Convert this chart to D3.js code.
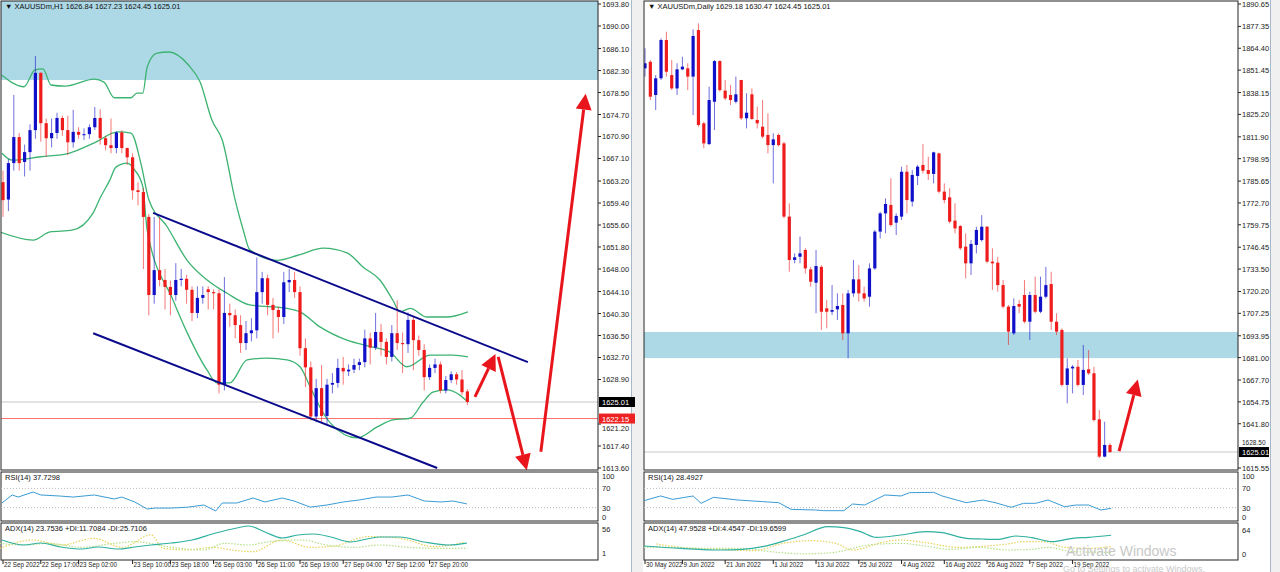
<!DOCTYPE html>
<html><head><meta charset="utf-8">
<script src="https://cdn.jsdelivr.net/npm/d3@7"></script>
<style>html,body{margin:0;padding:0;background:#f0f0f0;}svg{display:block;font-family:"Liberation Sans",Arial,sans-serif;}</style>
</head><body><svg id="c" width="1280" height="572"></svg>
<script>
// ---------------- H1 (left) data ----------------
const h1Open=[1663,1660,1666.3,1670.8,1666.5,1668.2,1672,1681.9,1673.2,1670.6,1671.5,1674.1,1672,1669.9,1671.7,1671.2,1671.3,1672.5,1674.1,1670.6,1669.4,1668.9,1671.6,1668.9,1667.3,1661.6,1661.3,1657,1643.5,1647.8,1646.1,1644.9,1643.5,1646.1,1646.3,1644.4,1640.4,1643,1644.5,1644,1643.8,1628,1640.4,1640,1638.3,1635.2,1636.9,1637.4,1644,1646.4,1641.8,1640.9,1639.7,1645.7,1646.1,1644,1634.3,1631,1622.5,1627.4,1622.6,1628,1628.3,1630.9,1630.3,1630.6,1631.4,1631.9,1636,1634.4,1637.1,1635.4,1632.8,1636.9,1635.2,1635,1639.2,1635.7,1634,1629.3,1630.9,1631.5,1627,1628.8,1629.8,1628.9,1626.84];
const h1High=[1665,1667,1678.1,1671.5,1669.5,1673,1684.8,1682,1674,1674,1675,1674.5,1674.5,1675.5,1672.5,1672.3,1673,1676,1675.6,1671,1674,1671.8,1672,1669,1668,1663,1662,1657.5,1657,1657,1648,1646,1649,1648,1647,1645,1645,1645,1645,1644.5,1644.5,1646.6,1642,1641,1640,1639,1639.5,1650,1647.5,1647,1643,1641.5,1647.5,1648,1647.5,1645,1636,1632,1629,1631.4,1629,1630,1632.5,1632.8,1631.5,1632.5,1632.5,1637.5,1637,1640.4,1638.5,1636,1638.3,1642.6,1637,1640.5,1639.8,1636.5,1635,1631.5,1632.5,1632,1629.5,1630.3,1630.2,1630.5,1627.23];
const h1Low=[1657,1658,1665,1665,1664,1665,1670.5,1670,1667.4,1669,1670.5,1671,1667.7,1669,1670.5,1670.3,1670.5,1672,1669.5,1668.5,1668,1668,1668,1666,1660,1659,1648,1640,1642,1645,1641,1640,1642.5,1645,1642,1639,1639.5,1642,1641,1641,1626.5,1627,1638,1636,1633.5,1634,1635.5,1636,1642,1640,1636,1637,1638.5,1644,1643,1633,1627.6,1621.8,1621.5,1621.5,1621,1626.5,1627.5,1628,1629.5,1630,1630.5,1631,1631.5,1634,1633,1631.5,1632,1634,1630,1633.5,1630.5,1633,1627,1628.8,1630,1626.5,1626.5,1628.3,1628,1626.2,1624.45];
const h1Close=[1659.9,1666.3,1670.8,1666.3,1668.2,1672,1681.9,1673.2,1670.6,1671.5,1674.1,1672,1669.9,1671.7,1671.2,1671.3,1672.5,1674.1,1670.6,1669.4,1668.9,1671.6,1668.9,1667.3,1661.6,1661.3,1657,1643.5,1647.8,1646.1,1644.9,1643.5,1646.1,1646.3,1644.4,1640.4,1643,1643.5,1644,1643.8,1628,1640.4,1640,1638.3,1635.2,1636.9,1637.4,1644,1646.4,1641.8,1640.9,1639.7,1645.7,1646.1,1644,1634.3,1631,1622.5,1627.4,1622.6,1628,1628.3,1630.9,1630.3,1630.6,1631.4,1631.9,1636,1634.4,1637.1,1635.4,1632.8,1636.9,1635.2,1635,1639.2,1635.7,1634,1629.3,1630.9,1631.5,1627,1628.8,1629.8,1628.9,1626.7,1625.01];
const h1BandUpper=[[-0.2,1681.5],[3.9,1679.5],[5.9,1682.4],[7.4,1682.6],[8.9,1679.8],[11.5,1679.6],[16.9,1680.8],[18.7,1680.3],[20.6,1677.6],[23.7,1677.6],[24.8,1678.4],[25.9,1678.4],[26.7,1682.9],[28.5,1685.3],[30.7,1685.5],[34.3,1683.3],[36.5,1680.3],[38.7,1673.7],[40.6,1670.3],[43,1659.9],[44.5,1654.7],[45.7,1651.3],[50.7,1649.5],[55,1650.5],[59.3,1651.6],[63.7,1650.8],[66.7,1648.3],[69.8,1646.1],[72.2,1642.6],[73.5,1640.6],[75.4,1641.2],[78.5,1639.7],[82.2,1639.7],[86.1,1640.6]];
const h1BandMiddle=[[-0.2,1668],[1.7,1666.8],[7,1667.4],[12.2,1668],[16.9,1669.8],[21.3,1671.7],[23.7,1671.5],[25.6,1666],[27,1660],[30.4,1655.3],[34.1,1649.5],[37.8,1646.1],[41.5,1643.8],[45.7,1641.8],[52.6,1641.2],[55,1640.6],[58.7,1638],[63.7,1635.7],[68.5,1634.5],[71.7,1633.6],[74.8,1631.1],[79.1,1633.1],[83.3,1633.1],[86.1,1632.8]];
const h1BandLower=[[-0.6,1654.4],[5.6,1653],[8.7,1654.4],[12.8,1654.7],[16.7,1657.7],[18,1660.3],[19.8,1663.4],[20.9,1665.6],[23,1666.3],[24.4,1665.1],[25.9,1662.2],[26.7,1654.7],[31.5,1642.6],[34.1,1637],[37.8,1630.5],[39.6,1628.3],[42,1628.3],[45.2,1632.3],[48.9,1632.6],[52.6,1632.3],[55,1631.1],[56.9,1627.6],[58.7,1624.1],[60.6,1621.4],[65.6,1618.8],[69.3,1620.7],[72.2,1621.9],[75.4,1622.2],[77.8,1625],[79.6,1626.7],[82.2,1627.1],[84.6,1626.2],[86.1,1625]];
const h1ChannelUpper=[[27.8,1657.7],[97.2,1631.9]];
const h1ChannelLower=[[16.7,1636.9],[80.4,1613.6]];
const h1Arrows=[[[87.4,1625.9],[91.2,1633.3]],[[91.7,1632.8],[97,1613.2]],[[99.6,1616.4],[107.9,1678.3]]];
const h1Zone=[1680.66,1695];
const h1Rsi=[[-0.2,39.6],[1.7,56.3],[2.8,52],[5.6,62.5],[7,56.3],[10.7,54],[13,52],[16.9,56.3],[20.6,48],[22,52],[24.4,41.7],[26.7,27],[28.1,29],[31.1,29],[34.3,31],[37.2,35.4],[39.4,23],[40.6,39.6],[43.3,39.6],[46.3,50],[48.5,41.7],[51.7,50],[53.9,43.8],[56.9,31],[60,35.4],[63,41.7],[65.9,45.8],[69.1,52],[72,52],[75,56.3],[78,43.8],[81.1,41.7],[83.3,43.8],[85.9,37.7]];
const h1Adx=[[-0.2,30.8],[3.9,19.3],[7,23.9],[10.7,14.8],[14.6,10.2],[17.6,14.8],[21.3,10.2],[24.4,14.8],[27.4,19.3],[31.1,23.9],[35,30.8],[39.4,46.9],[43.3,58.3],[45.5,62.9],[48.5,49.2],[51.7,35.4],[54.6,42.3],[57.6,44.6],[60.7,37.7],[64.4,26.2],[67.4,33.1],[69.8,37.7],[73.5,37.7],[78,26.2],[82.6,19.3],[85.9,23.75]];
const h1MinusDi=[[-0.6,11.7],[5.5,30.8],[10.8,19.3],[16.8,34.6],[22.1,14],[27.4,42.3],[29.7,11.7],[34.2,7.9],[38.7,14],[43.3,6.4],[46.3,4.1],[51.6,30.8],[56.9,14],[61.4,17],[67.5,38.5],[72,36.9],[75,30.8],[79.6,15.5],[85.6,25.7]];
const h1PlusDi=[[-0.6,23.2],[4,19.3],[8.5,23.2],[14.6,14],[20.6,23.2],[24.4,27],[31.2,14],[37.2,7.9],[41,23.2],[45.5,19.3],[49.3,27],[55.4,30.8],[59.9,19.3],[65.2,14],[69.7,19.3],[75,14],[81.1,11.7],[86,11.7]];
const h1PriceTicks=[1693.80,1690.00,1686.10,1682.30,1678.50,1674.70,1670.90,1667.10,1663.20,1659.40,1655.60,1651.80,1648.00,1644.10,1640.30,1636.50,1632.70,1628.90,1621.20,1617.40,1613.60];
const h1DateIdx=[0,7,14,24,31,39,47,55,63,71,79];
const h1DateLabels=["22 Sep 2022","22 Sep 17:00","23 Sep 02:00","23 Sep 10:00","23 Sep 18:00","26 Sep 03:00","26 Sep 11:00","26 Sep 19:00","27 Sep 04:00","27 Sep 12:00","27 Sep 20:00"];

// ---------------- Daily (right) data ----------------
const d1Open=[1852.5,1856.4,1836.7,1846.6,1869.3,1848.5,1840.6,1851.9,1852.5,1847.6,1875.2,1819.9,1807.6,1832.7,1856.8,1839.3,1836.7,1832.7,1845.6,1822.9,1837.1,1821.9,1817.9,1813,1807,1813,1808,1764.6,1738.9,1740.8,1744.8,1733.3,1725.4,1734.8,1710.2,1708.2,1709.6,1712.2,1695.4,1719.1,1727.4,1719.1,1717.1,1733.9,1755.7,1766.5,1771.5,1761,1764.6,1791.2,1773.5,1788.7,1795.2,1792.2,1789.9,1802.1,1779.4,1776,1762.2,1759,1746.8,1736.9,1747.8,1750.7,1758.6,1737.9,1737.3,1724,1711.2,1695.4,1712.8,1718.1,1702.3,1718.1,1708.2,1717.1,1724.6,1702.3,1697.4,1664.8,1674.6,1675.6,1664.8,1674.1,1671.7,1644.4,1622.3,1629.18];
const d1High=[1864.4,1857.4,1848.5,1870.3,1874.2,1857.4,1855.5,1859.4,1855.5,1875.6,1879.2,1820.9,1841.6,1857.4,1857.4,1845.6,1842.6,1847.6,1845.6,1837.7,1840.6,1829.8,1833.7,1825.8,1814,1814,1809,1772.5,1742.8,1752.7,1745.8,1734.8,1744.8,1735.8,1715.2,1724,1719.1,1719.1,1721.1,1738.9,1735.8,1723.1,1736.9,1756.7,1767.5,1775.4,1787.3,1766.5,1794.2,1795.2,1792.2,1795.2,1807.6,1800.1,1803.1,1802.5,1784.3,1781.4,1772.5,1759.6,1754.7,1750.7,1758.6,1765.5,1759,1745.8,1740.8,1727,1712.2,1716.1,1715.2,1727,1720.1,1729,1729,1734.8,1731.9,1707.3,1698.4,1680.6,1676.6,1679.6,1688.5,1685.5,1675.6,1649.9,1643,1630.47];
const d1Low=[1847.6,1833.7,1827.8,1845.6,1847.6,1839.6,1836.7,1851.5,1839.6,1824.8,1817.9,1805.1,1807,1815.9,1838.7,1833.7,1830.8,1831.7,1821.9,1816.9,1821.9,1816.9,1811,1802.1,1784.3,1806.1,1763.6,1731.9,1736.9,1736.9,1730.9,1723.1,1707.3,1697.4,1698.4,1706.3,1703.3,1691.4,1680.6,1717.1,1714.2,1714.2,1711.2,1733,1751.7,1754.7,1758.6,1753.7,1762.6,1766.5,1770.5,1783.3,1790.2,1786.3,1784.3,1778.4,1772.5,1760.6,1754.7,1744.8,1728,1730,1742.8,1749.7,1736.9,1721.1,1720.1,1710.2,1688.5,1694.4,1707.3,1701.3,1691.4,1707.3,1707.3,1716.1,1697.4,1694.4,1663.8,1653.9,1659.8,1663.8,1658.8,1670.7,1643,1621.3,1621.9,1624.45];
const d1Close=[1855.5,1835.7,1846.6,1869.3,1850.5,1840.6,1851.9,1853.5,1847.6,1871.7,1818.9,1808,1833.7,1856.8,1839.6,1834.7,1833.7,1837.1,1822.9,1826.2,1822.5,1819.9,1812,1807,1810.4,1807,1764.6,1738.9,1740.5,1742.8,1733.9,1726,1735.3,1708.2,1708.2,1709.2,1711.6,1695.4,1719.1,1727.4,1719.1,1716.1,1733.9,1755.7,1766.5,1772.1,1759.6,1765,1791.2,1774.4,1789.3,1794.2,1791.8,1789.9,1802.7,1779.4,1774.4,1761.6,1757.6,1745.8,1736.9,1748.4,1756.7,1758.6,1737.9,1736.9,1724,1711.2,1696.4,1711.6,1711.2,1702.3,1718.1,1708.2,1717.1,1724,1702.3,1696.4,1664.8,1674.6,1675.6,1664.8,1673.7,1671.7,1644,1622.3,1629.2,1625.01];
const d1Zone=[1680.7,1696.2];
const d1Arrows=[[[88.7,1625.5],[92.2,1668]]];
const d1Rsi=[[-0.2,44.4],[2.9,54.2],[5.2,47.2],[9,54.2],[10.5,38.9],[12.8,51.4],[17.4,45.8],[22,42.4],[25,40.3],[27.3,26.4],[31.9,25],[33.4,23.6],[37.2,23.6],[38.8,37.5],[41.1,35.4],[44.9,56.3],[47.9,54.2],[49.5,61.1],[54,61.8],[55.6,54.2],[60.1,40.3],[63.2,45.8],[65.5,40.3],[68.5,30.6],[70.8,38.9],[73.1,38.9],[75.4,45.8],[78.5,31.9],[80.7,35.4],[83,35.4],[85.3,25],[87.2,28.5]];
const d1Adx=[[-0.2,21.3],[6.7,15.1],[14.3,10.7],[18.2,12.4],[22,19.6],[26.6,37.3],[29.6,50.7],[34.2,72.9],[37.2,70.2],[40.3,59.6],[43.3,44.4],[47.9,50.7],[52.5,59.6],[55.6,56.9],[60.1,41.8],[63.2,40],[66.2,39.1],[69.3,48],[72.4,43.6],[76.2,32.9],[80,41.8],[83,44.4],[87.2,50]];
const d1MinusDi=[[2.1,26.7],[6.7,17.8],[14.3,12.4],[20.4,8.9],[25.8,28.4],[31.1,35.6],[35.7,28.4],[38.8,10.7],[44.9,32.9],[47.9,37.3],[52.5,30.2],[58.6,17.8],[64,21.3],[67.8,26.7],[70.8,32.9],[74.6,32.9],[78.5,17.8],[83,15.1],[87.2,19.66]];
const d1PlusDi=[[-0.2,17.8],[5.2,17.8],[10.5,15.1],[18.2,15.1],[23.5,6.2],[29.6,0.5],[35,3.6],[41.8,24],[47.9,28.4],[52.5,21.3],[57.1,12.4],[62.4,17.8],[67.8,10.7],[72.4,12.4],[75.4,17.8],[80,6.2],[87.2,4.45]];
const d1PriceTicks=[1890.65,1877.35,1864.40,1851.45,1838.15,1825.20,1811.90,1798.95,1785.65,1772.70,1759.75,1746.45,1733.50,1720.20,1707.25,1693.95,1681.00,1667.70,1654.75,1641.80,1628.50,1615.55];
const d1DateIdx=[0,7,15,24,32,40,48,56,64,72,80];
const d1DateLabels=["30 May 2022","9 Jun 2022","21 Jun 2022","1 Jul 2022","13 Jul 2022","25 Jul 2022","4 Aug 2022","16 Aug 2022","26 Aug 2022","7 Sep 2022","19 Sep 2022"];
const rsiLevels=[100,70,30,0];

const svg=d3.select("#c");
const BLUE="#1010c8", RED="#ee1c1c", GREEN="#3cb371";

function panel(cfg){
  const g=svg.append("g");
  const L=cfg.left, R=cfg.right;
  g.append("rect").attr("x",L-1).attr("y",0).attr("width",cfg.white-L+1).attr("height",572).attr("fill","#fff");
  g.append("line").attr("x1",cfg.white+0.5).attr("x2",cfg.white+0.5).attr("y1",0).attr("y2",572).attr("stroke","#a8b8c8");
  const x=d3.scaleLinear().domain([0,cfg.n-1]).range([cfg.x0,cfg.x1]);
  const y=d3.scaleLinear().domain(cfg.pDomain).range([468,4]);
  const id="clip"+cfg.key;
  svg.append("clipPath").attr("id",id).append("rect").attr("x",L).attr("y",1).attr("width",R-L).attr("height",469);
  const main=g.append("g").attr("clip-path",`url(#${id})`);
  main.append("rect").attr("x",L).attr("width",R-L).attr("y",y(cfg.zone[1])).attr("height",y(cfg.zone[0])-y(cfg.zone[1])).attr("fill","#add8e6");
  (cfg.hlines||[]).forEach(h=>main.append("line").attr("x1",L).attr("x2",R).attr("y1",y(h.v)).attr("y2",y(h.v)).attr("stroke",h.c).attr("stroke-width",1));
  const line=d3.line().x(d=>x(d[0])).y(d=>y(d[1])).curve(d3.curveMonotoneX);
  (cfg.bands||[]).forEach(b=>main.append("path").attr("d",line(b)).attr("fill","none").attr("stroke",GREEN).attr("stroke-width",1.3));
  const cg=main.append("g");
  cfg.o.forEach((o,i)=>{
    const c=cfg.c[i], col=c>=o?BLUE:RED;
    cg.append("line").attr("x1",x(i)).attr("x2",x(i)).attr("y1",y(cfg.h[i])).attr("y2",y(cfg.l[i])).attr("stroke",col).attr("stroke-opacity",0.6).attr("stroke-width",1);
    const top=y(Math.max(o,c)), bot=y(Math.min(o,c));
    cg.append("rect").attr("x",x(i)-1.6).attr("width",3.2).attr("y",top).attr("height",Math.max(1,bot-top)).attr("fill",col);
  });
  (cfg.channels||[]).forEach(ch=>main.append("line").attr("x1",x(ch[0][0])).attr("y1",y(ch[0][1])).attr("x2",x(ch[1][0])).attr("y2",y(ch[1][1])).attr("stroke","#0a0a8c").attr("stroke-width",2));
  (cfg.arrows||[]).forEach(a=>{
    const x1=x(a[0][0]),y1=y(a[0][1]),x2=x(a[1][0]),y2=y(a[1][1]);
    const ang=Math.atan2(y2-y1,x2-x1), hl=16, hw=8;
    const bx=x2-hl*Math.cos(ang), by=y2-hl*Math.sin(ang);
    g.append("line").attr("x1",x1).attr("y1",y1).attr("x2",bx).attr("y2",by).attr("stroke","#e8161c").attr("stroke-width",3);
    const px=-Math.sin(ang)*hw, py=Math.cos(ang)*hw;
    g.append("path").attr("d",`M${x2},${y2}L${bx+px},${by+py}L${bx-px},${by-py}Z`).attr("fill","#e8161c");
  });
  const frames=[[1,470],[472,521],[523,560]];
  frames.forEach(f=>g.append("rect").attr("x",L).attr("y",f[0]).attr("width",R-L).attr("height",f[1]-f[0]).attr("fill","none").attr("stroke","#222").attr("stroke-width",1));
  cfg.ticks.forEach(t=>{
    g.append("line").attr("x1",R).attr("x2",R+3).attr("y1",y(t)).attr("y2",y(t)).attr("stroke","#222");
    // labels hidden behind a price box are nudged just below it, as the terminal does
    let ty=y(t)+3;
    (cfg.boxes||[]).forEach(b=>{ if(Math.abs(y(b.v)-y(t))<9) ty=y(b.v)+12; });
    g.append("text").attr("x",R+4).attr("y",ty).attr("font-size",7.5).attr("fill","#222").text(t.toFixed(2));
  });
  (cfg.boxes||[]).forEach(b=>{
    g.append("rect").attr("x",R+1).attr("y",y(b.v)-5).attr("width",cfg.boxW).attr("height",10).attr("fill",b.c);
    g.append("text").attr("x",R+4).attr("y",y(b.v)+3).attr("font-size",7.5).attr("fill","#fff").text(b.v.toFixed(2));
  });
  g.append("text").attr("x",L+4).attr("y",9).attr("font-size",7.5).attr("fill","#111").text(cfg.title);
  const yr=d3.scaleLinear().domain([0,100]).range([522,474]);
  [70,30].forEach(v=>g.append("line").attr("x1",L).attr("x2",R).attr("y1",yr(v)).attr("y2",yr(v)).attr("stroke","#bbb").attr("stroke-dasharray","1,2"));
  rsiLevels.forEach(v=>g.append("text").attr("x",R+4).attr("y",Math.min(520,Math.max(479,yr(v)+3))).attr("font-size",7.5).attr("fill","#222").text(v));
  const lr=d3.line().x(d=>x(d[0])).y(d=>yr(d[1]));
  g.append("path").attr("d",lr(cfg.rsi)).attr("fill","none").attr("stroke","#3a9bd5").attr("stroke-width",1);
  g.append("text").attr("x",L+4).attr("y",480).attr("font-size",7.5).attr("fill","#111").text(cfg.rsiTitle);
  const ya=d3.scaleLinear().domain(cfg.adxDomain).range(cfg.adxRange);
  const la=d3.line().x(d=>x(d[0])).y(d=>ya(d[1])).curve(d3.curveMonotoneX);
  g.append("path").attr("d",la(cfg.minusDi)).attr("fill","none").attr("stroke","#e6d25a").attr("stroke-width",1.2).attr("stroke-dasharray","1.5,1.5");
  g.append("path").attr("d",la(cfg.plusDi)).attr("fill","none").attr("stroke","#b5e08a").attr("stroke-width",1.2).attr("stroke-dasharray","1.5,1.5");
  g.append("path").attr("d",la(cfg.adx)).attr("fill","none").attr("stroke","#30b0a0").attr("stroke-width",1.2);
  g.append("text").attr("x",L+4).attr("y",531).attr("font-size",7.5).attr("fill","#111").text(cfg.adxTitle);
  cfg.adxLabels.forEach(v=>g.append("text").attr("x",R+4).attr("y",ya(v)+3).attr("font-size",7.5).attr("fill","#222").text(v));
  cfg.dateIdx.forEach((d,i)=>{
    g.append("line").attr("x1",x(d)).attr("x2",x(d)).attr("y1",560).attr("y2",564).attr("stroke","#222");
    g.append("text").attr("x",x(d)+1).attr("y",567).attr("font-size",6.3).attr("fill","#222").text(cfg.dateLabels[i]);
  });
}

panel({key:"L",left:1,right:598,white:631,n:h1Close.length,x0:3,x1:467.4,pDomain:[1613.6,1693.8],zone:h1Zone,
  o:h1Open,h:h1High,l:h1Low,c:h1Close,bands:[h1BandUpper,h1BandMiddle,h1BandLower],channels:[h1ChannelUpper,h1ChannelLower],
  arrows:h1Arrows,hlines:[{v:1625.01,c:"#c8c8c8"},{v:1622.15,c:"#ff7070"}],ticks:h1PriceTicks,boxW:36,
  boxes:[{v:1625.01,c:"#000"},{v:1622.15,c:"#ee2222"}],title:"▼ XAUUSDm,H1  1626.84 1627.23 1624.45 1625.01",
  rsi:h1Rsi,rsiTitle:"RSI(14) 37.7298",adx:h1Adx,minusDi:h1MinusDi,plusDi:h1PlusDi,adxDomain:[1,56],adxRange:[553,529],adxLabels:[56,1],
  adxTitle:"ADX(14) 23.7536 +DI:11.7084 -DI:25.7106",dateIdx:h1DateIdx,dateLabels:h1DateLabels});
panel({key:"R",left:644,right:1238,white:1270,n:d1Close.length,x0:645,x1:1110,pDomain:[1615.55,1890.65],zone:d1Zone,
  o:d1Open,h:d1High,l:d1Low,c:d1Close,arrows:d1Arrows,hlines:[{v:1625.01,c:"#c8c8c8"}],ticks:d1PriceTicks.filter(t=>t!==1628.50),boxW:30,
  boxes:[{v:1625.01,c:"#000"}],title:"▼ XAUUSDm,Daily  1629.18 1630.47 1624.45 1625.01",
  rsi:d1Rsi,rsiTitle:"RSI(14) 28.4927",adx:d1Adx,minusDi:d1MinusDi,plusDi:d1PlusDi,adxDomain:[0,64],adxRange:[554,530],adxLabels:[64,0],
  adxTitle:"ADX(14) 47.9528 +DI:4.4547 -DI:19.6599",dateIdx:d1DateIdx,dateLabels:d1DateLabels});
// right-axis 1628.50 sits just above the price box in the reference
(function(){const y=d3.scaleLinear().domain([1615.55,1890.65]).range([468,4]);
  svg.append("text").attr("x",1242).attr("y",y(1628.50)-1).attr("font-size",6.5).attr("fill","#222").text((1628.50).toFixed(2));})();

svg.append("text").attr("x",1066).attr("y",556).attr("font-size",14).attr("fill","#c8c8c8").text("Activate Windows");
svg.append("text").attr("x",1063).attr("y",571.5).attr("font-size",9).attr("fill","#c8c8c8").text("Go to Settings to activate Windows.");
</script></body></html>
